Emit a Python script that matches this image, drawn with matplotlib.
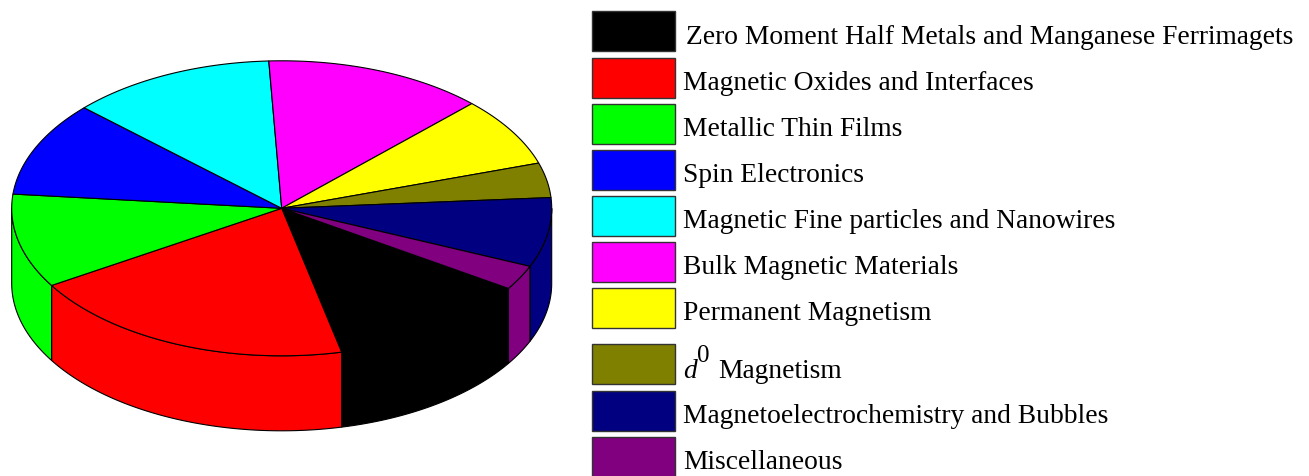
import numpy as np
import matplotlib
matplotlib.use("Agg")
import matplotlib.pyplot as plt
from matplotlib.patches import Polygon, Rectangle

labels = ["Zero Moment Half Metals and Manganese Ferrimagets",
          "Magnetic Oxides and Interfaces",
          "Metallic Thin Films",
          "Spin Electronics",
          "Magnetic Fine particles and Nanowires",
          "Bulk Magnetic Materials",
          "Permanent Magnetism",
          "d0 Magnetism",
          "Magnetoelectrochemistry and Bubbles",
          "Miscellaneous"]
values = [12.3, 19.8, 10.3, 10.4, 12.3, 13.2, 7.6, 3.8, 7.6, 2.7]
colors = ["#000000", "#FF0000", "#00FF00", "#0000FF", "#00FFFF",
          "#FF00FF", "#FFFF00", "#808000", "#000080", "#800080"]

W, H = 1309, 477
fig = plt.figure(figsize=(W / 100, H / 100), dpi=100)
ax = fig.add_axes([0, 0, 1, 1])
ax.set_xlim(0, W)
ax.set_ylim(H, 0)
ax.axis("off")

cx, cy, a, b, depth = 281.7, 209.3, 270.0, 147.5, 75.0
start = -32.9
lw = 0.8

vals = np.array(values, dtype=float)
fr = vals / vals.sum() * 360.0
ends = start - np.concatenate([[0], np.cumsum(fr)[:-1]])
starts = ends - fr

def arc(t1, t2, dy=0.0):
    t = np.radians(np.linspace(t1, t2, max(3, int(abs(t2 - t1) * 2))))
    return np.column_stack([cx + a * np.cos(t), cy - b * np.sin(t) + dy])

# side walls (front half: sin < 0)
for lo, hi, c in zip(starts, ends, colors):
    for k in range(-2, 2):
        vlo, vhi = -180 + 360 * k, 0 + 360 * k
        s, e = max(lo, vlo), min(hi, vhi)
        if e > s:
            top = arc(s, e)
            bot = arc(e, s, depth)
            ax.add_patch(Polygon(np.vstack([top, bot]), closed=True,
                                 facecolor=c, edgecolor="black", lw=lw, zorder=1))

# top faces
for lo, hi, c in zip(starts, ends, colors):
    pts = np.vstack([[cx, cy], arc(lo, hi)])
    ax.add_patch(Polygon(pts, closed=True, facecolor=c, edgecolor="black",
                         lw=lw, zorder=2, joinstyle="round"))

# legend
box_x, box_w, box_h = 592, 83, 40
box_tops = [12, 59, 105, 151, 197, 243, 289, 345, 392, 438]
fs = 19.8
fam = "Liberation Serif"
for i, (lab, c, yt) in enumerate(zip(labels, colors, box_tops)):
    ax.add_patch(Rectangle((box_x, yt), box_w, box_h, facecolor=c,
                           edgecolor="#333333", lw=1, zorder=3))
    yb = yt + 32.5 if i == 0 else yt + 31.5
    if i == 7:
        yb = 378.5
        ax.text(683, yb, "d", fontsize=fs, family=fam,
                style="italic", va="baseline", ha="left")
        ax.text(697, 362, "0", fontsize=18, family=fam,
                va="baseline", ha="left")
        ax.text(718, yb, "Magnetism", fontsize=fs, family=fam,
                va="baseline", ha="left")
    else:
        x0 = 686 if i == 0 else 683
        ax.text(x0, yb, lab, fontsize=fs, family=fam,
                va="baseline", ha="left")

fig.savefig("out.png", dpi=100)
